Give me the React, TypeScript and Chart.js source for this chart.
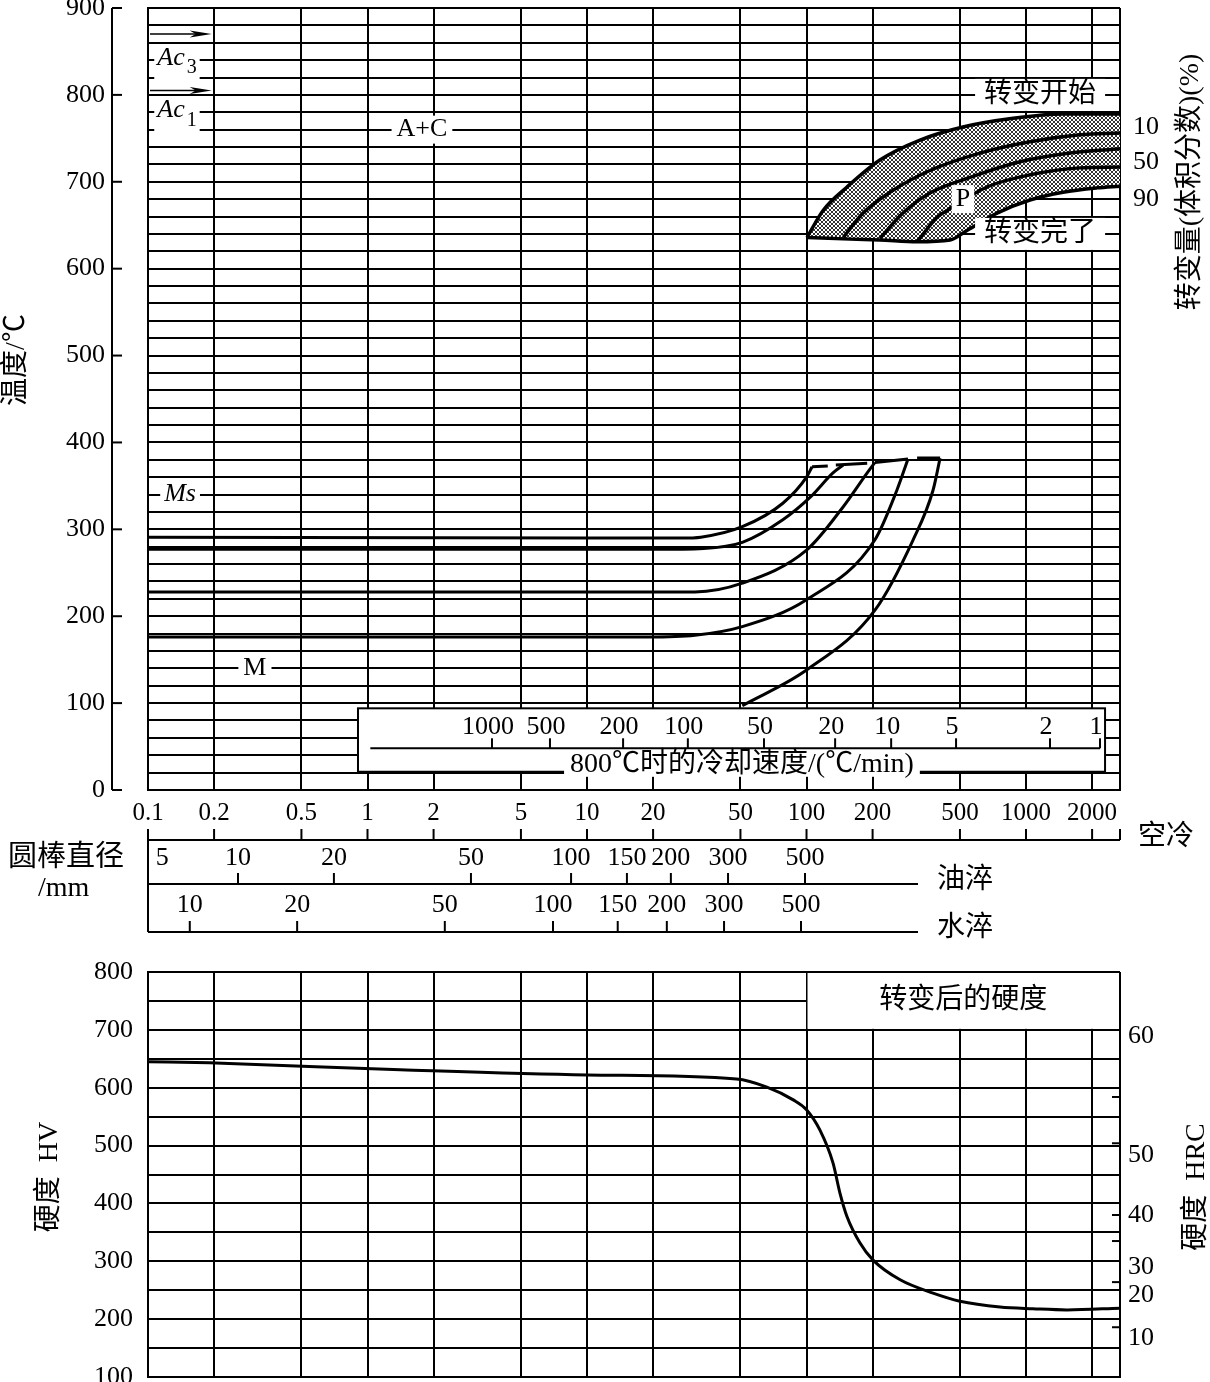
import React, { useEffect, useRef } from "react";
import { Chart, registerables } from "chart.js";
Chart.register(...registerables);

const SERIF = "'Liberation Serif', 'DejaVu Serif', serif";
const MIXED = "'Liberation Serif', 'Noto Sans CJK SC', sans-serif";

// ---------- time axis (s) ----------
const timeGridValues = [0.1, 0.2, 0.5, 1, 2, 5, 10, 20, 50, 100, 200, 500, 1000, 2000];
const timeTickLabels = ["0.1", "0.2", "0.5", "1", "2", "5", "10", "20", "50", "100", "200", "500", "1000", "2000"];
const timeMin = 0.1;
const timeMax = 2680;

// ---------- temperature axis (°C) ----------
const tempMin = 0;
const tempMax = 900;
const tempGridStep = 20;
const tempLabelStep = 100;

// ---------- martensite start curves ----------
const mart1Time = [0.1, 10, 27, 33, 51, 78, 100, 106];
const mart1Temp = [291, 290, 290, 291, 303, 330, 360, 372];
const mart2Time = [0.1, 20, 34, 51, 78, 104, 132, 147];
const mart2Temp = [277, 277, 278, 285, 311, 337, 365, 374];
const mart3Time = [0.1, 20, 31, 51, 100, 147, 189, 205];
const mart3Temp = [228, 228, 228, 238, 276, 326, 365, 377];
const mart4Time = [0.1, 19, 31, 51, 100, 205, 258, 290];
const mart4Temp = [176, 176, 178, 188, 219, 288, 345, 381];
const mart5Time = [51, 100, 205, 306, 377, 406];
const mart5Temp = [97, 138, 207, 288, 345, 382];
const msTopTime = [106, 125, 130, 136, 189, 198, 205, 290, 300, 319, 406];
const msTopTemp = [372, 373, null, 374, 376, null, 377, 381, null, 382, 382];

// ---------- pearlite region ----------
const pStartTime = [100.5, 119, 153, 216, 329, 516, 873, 1475, 2680];
const pStartTemp = [636, 667, 694, 725, 748, 763, 773, 778, 778];
const p10Time = [147, 181, 240, 365, 617, 1042, 1762, 2680];
const p10Temp = [636, 664, 688, 713, 733, 746, 754, 756];
const p50Time = [216, 275, 365, 556, 939, 1586, 2680];
const p50Temp = [635, 664, 687, 705, 723, 733, 738];
const p90Time = [319, 393, 437, 664, 1042, 1762, 2680];
const p90Temp = [631, 659, 667, 694, 708, 716, 717];
const pEndTime = [100.5, 158, 216, 319, 451, 538, 738, 1042, 1475, 2105, 2680];
const pEndTemp = [636, 634, 633, 631, 633, 644, 664, 679, 688, 693, 695];
const fractionLabels = ["10", "50", "90"];
const fractionLabelTemp = [763, 722, 680];

// ---------- cooling rate at 800°C (°C/min) ----------
const coolRates = [1000, 500, 200, 100, 50, 20, 10, 5, 2, 1];
const coolRateAtTime = [3.69, 6.78, 14.6, 28.8, 64, 135, 243, 480, 1286, 2173];

// ---------- bar diameters (mm) ----------
const oilDiameters = [5, 10, 20, 50, 100, 150, 200, 300, 500];
const oilAtTime = [0.116, 0.257, 0.703, 2.96, 8.46, 15.2, 24.1, 43.9, 98.4];
const waterDiameters = [10, 20, 50, 100, 150, 200, 300, 500];
const waterAtTime = [0.155, 0.478, 2.25, 7.0, 13.8, 23.1, 42.1, 94.4];
const quenchScaleEnd = 322;

// ---------- hardness ----------
const hvMin = 100;
const hvMax = 800;
const hvGridStep = 50;
const hvLabelStep = 100;
const hardTime = [0.1, 0.19, 1.41, 10, 48, 66, 87, 100, 115, 132, 142, 153, 175, 201, 267, 377, 500, 761, 1076, 1538, 2680];
const hardHV = [645, 643, 631, 622, 615, 601, 579, 562, 527, 470, 418, 377, 332, 302, 268, 245, 231, 221, 218, 216, 219];
const hrcLabels = ["60", "50", "40", "30", "20", "10"];
const hrcLabelAtHV = [689, 484, 380, 290, 242, 167];
const hrcTickAtHV = [584, 504, 380, 335, 264, 186];

const pts = (ts: number[], vs: (number | null)[]) => ts.map((t, i) => ({ x: t, y: vs[i] }));

function seg(ctx: CanvasRenderingContext2D, x1: number, y1: number, x2: number, y2: number) {
  ctx.beginPath();
  ctx.moveTo(x1, y1);
  ctx.lineTo(x2, y2);
  ctx.stroke();
}

function boxText(ctx: CanvasRenderingContext2D, text: string, x: number, y: number, font: string, padX = 5, h = 30) {
  ctx.font = font;
  const w = ctx.measureText(text).width;
  ctx.fillStyle = "#fff";
  ctx.fillRect(x - w / 2 - padX, y - h / 2, w + 2 * padX, h);
  ctx.fillStyle = "#000";
  ctx.textAlign = "center";
  ctx.textBaseline = "middle";
  ctx.fillText(text, x, y);
}

function plainText(ctx: CanvasRenderingContext2D, text: string, x: number, y: number, font: string, align: CanvasTextAlign = "center") {
  ctx.font = font;
  ctx.fillStyle = "#000";
  ctx.textAlign = align;
  ctx.textBaseline = "middle";
  ctx.fillText(text, x, y);
}

function vText(ctx: CanvasRenderingContext2D, text: string, x: number, y: number, font: string) {
  ctx.save();
  ctx.translate(x, y);
  ctx.rotate(-Math.PI / 2);
  plainText(ctx, text, 0, 0, font);
  ctx.restore();
}

function acLabel(ctx: CanvasRenderingContext2D, sub: string, cx: number, cy: number) {
  const f1 = `italic 26px ${SERIF}`;
  const f2 = `20px ${SERIF}`;
  ctx.font = f1;
  const w1 = ctx.measureText("Ac").width;
  ctx.font = f2;
  const w2 = ctx.measureText(sub).width;
  const total = w1 + w2 + 2;
  const left = cx - total / 2;
  ctx.fillStyle = "#fff";
  ctx.fillRect(left - 3, cy - 15, total + 6, 34);
  ctx.fillStyle = "#000";
  ctx.textAlign = "left";
  ctx.textBaseline = "middle";
  ctx.font = f1;
  ctx.fillText("Ac", left, cy - 2);
  ctx.font = f2;
  ctx.fillText(sub, left + w1 + 2, cy + 8);
}

function arrow(ctx: CanvasRenderingContext2D, x1: number, x2: number, y: number) {
  ctx.lineWidth = 1.5;
  seg(ctx, x1, y, x2 - 10, y);
  ctx.beginPath();
  ctx.moveTo(x2, y);
  ctx.lineTo(x2 - 22, y - 3.5);
  ctx.lineTo(x2 - 16, y);
  ctx.lineTo(x2 - 22, y + 3.5);
  ctx.closePath();
  ctx.fill();
}

const topDecor = {
  id: "topDecor",
  afterDraw(chart: any) {
    const ctx: CanvasRenderingContext2D = chart.ctx;
    const xs = chart.scales.x;
    const ys = chart.scales.y;
    const X = (t: number) => xs.getPixelForValue(t);
    const Y = (v: number) => ys.getPixelForValue(v);
    const a = chart.chartArea;
    ctx.save();
    ctx.strokeStyle = "#000";
    ctx.fillStyle = "#000";
    ctx.lineWidth = 2;

    // separate temperature axis line with ticks
    const axX = a.left - 36;
    seg(ctx, axX, Y(tempMax), axX, Y(tempMin));
    for (let v = tempMin; v <= tempMax; v += tempLabelStep) seg(ctx, axX, Y(v), axX + 10, Y(v));

    // time axis line under labels (air cooling)
    const axY = a.bottom + 50;
    seg(ctx, a.left, axY, a.right, axY);
    for (const t of [...timeGridValues, timeMax]) seg(ctx, X(t), axY - 11, X(t), axY);

    // bar diameter scales
    const oilY = a.bottom + 94;
    const waterY = a.bottom + 142;
    seg(ctx, a.left, axY - 11, a.left, waterY);
    seg(ctx, a.left, oilY, X(quenchScaleEnd), oilY);
    seg(ctx, a.left, waterY, X(quenchScaleEnd), waterY);
    oilDiameters.forEach((d, i) => {
      if (i > 0) seg(ctx, X(oilAtTime[i]), oilY - 11, X(oilAtTime[i]), oilY); // first value sits on the frame
      plainText(ctx, String(d), X(oilAtTime[i]), a.bottom + 68, `26px ${SERIF}`);
    });
    waterDiameters.forEach((d, i) => {
      seg(ctx, X(waterAtTime[i]), waterY - 11, X(waterAtTime[i]), waterY);
      plainText(ctx, String(d), X(waterAtTime[i]), a.bottom + 115, `26px ${SERIF}`);
    });
    plainText(ctx, "空冷", a.right + 18, axY - 2, `28px ${MIXED}`, "left");
    plainText(ctx, "油淬", X(quenchScaleEnd) + 19, oilY - 3, `28px ${MIXED}`, "left");
    plainText(ctx, "水淬", X(quenchScaleEnd) + 19, waterY - 3, `28px ${MIXED}`, "left");
    plainText(ctx, "圆棒直径", 8, a.bottom + 68, `29px ${MIXED}`, "left");
    plainText(ctx, "/mm", 38, a.bottom + 99, `28px ${SERIF}`, "left");

    // cooling-rate box
    ctx.lineWidth = 2;
    const bl = X(0.905), br = X(2291), bt = Y(94), bb = Y(21);
    ctx.fillStyle = "#fff";
    ctx.fillRect(bl, bt, br - bl, bb - bt);
    ctx.strokeRect(bl, bt, br - bl, bb - bt);
    ctx.fillStyle = "#000";
    const lineY = Y(48);
    seg(ctx, X(1.03), lineY, X(coolRateAtTime[coolRateAtTime.length - 1]), lineY);
    coolRates.forEach((r, i) => {
      const px = X(coolRateAtTime[i]);
      seg(ctx, px, lineY, px, lineY - 10);
      plainText(ctx, String(r), px - 4, Y(72), `26px ${SERIF}`);
    });
    boxText(ctx, "800℃时的冷却速度/(℃/min)", X(50.8), Y(29), `28px ${MIXED}`, 6, 24);

    // arrows & labels
    arrow(ctx, X(0.1) + 2, X(0.195), Y(870));
    arrow(ctx, X(0.1) + 2, X(0.195), Y(805));
    ctx.lineWidth = 2;
    acLabel(ctx, "3", X(0.1355), Y(840));
    acLabel(ctx, "1", X(0.1355), Y(780));
    boxText(ctx, "A+C", X(1.77), Y(760), `26px ${SERIF}`, 5, 28);
    boxText(ctx, "Ms", X(0.14), Y(340), `italic 26px ${SERIF}`, 4, 28);
    boxText(ctx, "M", X(0.307), Y(140), `26px ${SERIF}`, 5, 28);
    boxText(ctx, "P", X(516), Y(680), `26px ${SERIF}`, 4, 28);
    boxText(ctx, "转变开始", X(1159), Y(800), `28px ${MIXED}`, 9, 32);
    boxText(ctx, "转变完了", X(1159), Y(640), `28px ${MIXED}`, 9, 32);
    fractionLabels.forEach((l, i) => plainText(ctx, l, a.right + 13, Y(fractionLabelTemp[i]), `26px ${SERIF}`, "left"));

    // axis titles
    vText(ctx, "温度/℃", 17, 360, `28px ${MIXED}`);
    vText(ctx, "转变量(体积分数)(%)", 1191, 182, `28px ${MIXED}`);
    ctx.restore();
  },
};

const bottomDecor = {
  id: "bottomDecor",
  beforeDatasetsDraw(chart: any) {
    const ctx: CanvasRenderingContext2D = chart.ctx;
    const X = (t: number) => chart.scales.x.getPixelForValue(t);
    const Y = (v: number) => chart.scales.y.getPixelForValue(v);
    const a = chart.chartArea;
    ctx.save();
    const l = X(100) + 1, t = a.top + 1, b = Y(700) - 1;
    ctx.fillStyle = "#fff";
    ctx.fillRect(l, t, a.right - 1 - l, b - t);
    plainText(ctx, "转变后的硬度", (X(100) + a.right) / 2, (a.top + Y(700)) / 2, `28px ${MIXED}`);
    ctx.restore();
  },
  afterDraw(chart: any) {
    const ctx: CanvasRenderingContext2D = chart.ctx;
    const Y = (v: number) => chart.scales.y.getPixelForValue(v);
    const a = chart.chartArea;
    ctx.save();
    ctx.strokeStyle = "#000";
    ctx.lineWidth = 2;
    hrcTickAtHV.forEach((hv) => seg(ctx, a.right - 8, Y(hv), a.right, Y(hv)));
    vText(ctx, "硬度  HV", 50, 232, `28px ${MIXED}`);
    vText(ctx, "硬度  HRC", 1197, 242, `28px ${MIXED}`);
    ctx.restore();
  },
};

function makeHatch(): CanvasPattern | string {
  const c = document.createElement("canvas");
  c.width = 4;
  c.height = 4;
  const g = c.getContext("2d");
  if (!g) return "#888";
  g.fillStyle = "#fff";
  g.fillRect(0, 0, 4, 4);
  g.fillStyle = "#333";
  for (let i = 0; i < 4; i++) {
    g.fillRect(i, i, 1, 1);
    g.fillRect(3 - i, i, 1, 1);
  }
  return g.createPattern(c, "repeat") || "#888";
}

const gridStyle = { color: "#000", lineWidth: 2, drawTicks: false };
const borderStyle = { color: "#000", width: 2 };

export default function App() {
  const topRef = useRef<HTMLCanvasElement>(null);
  const botRef = useRef<HTMLCanvasElement>(null);

  useEffect(() => {
    document.body.style.margin = "0";
    const hatch = makeHatch();
    const line = (data: any[], extra: any = {}) => ({
      data,
      borderColor: "#000",
      borderWidth: 3,
      pointRadius: 0,
      fill: false,
      cubicInterpolationMode: "monotone",
      ...extra,
    });
    const timeScale = (height: number, showLabels: boolean) => ({
      type: "logarithmic",
      min: timeMin,
      max: timeMax,
      afterBuildTicks: (s: any) => {
        s.ticks = [...timeGridValues, timeMax].map((v) => ({ value: v }));
      },
      afterFit: (s: any) => {
        s.height = height;
        s.paddingLeft = 0;
        s.paddingRight = 0;
      },
      ticks: {
        display: showLabels,
        autoSkip: false,
        maxRotation: 0,
        minRotation: 0,
        padding: 8,
        color: "#000",
        font: { family: SERIF, size: 25 },
        callback: (_v: any, i: number) => timeTickLabels[i] ?? "",
      },
      grid: gridStyle,
      border: borderStyle,
    });

    const top = new Chart(topRef.current as HTMLCanvasElement, {
      type: "line",
      data: {
        datasets: [
          line(pts(pStartTime, pStartTemp), { fill: 4, backgroundColor: hatch, borderWidth: 3.5 }),
          line(pts(p10Time, p10Temp), { borderWidth: 3.5 }),
          line(pts(p50Time, p50Temp), { borderWidth: 3.5 }),
          line(pts(p90Time, p90Temp), { borderWidth: 3.5 }),
          line(pts(pEndTime, pEndTemp), { borderWidth: 3.5 }),
          line(pts(mart1Time, mart1Temp)),
          line(pts(mart2Time, mart2Temp)),
          line(pts(mart3Time, mart3Temp)),
          line(pts(mart4Time, mart4Temp)),
          line(pts(mart5Time, mart5Temp)),
          line(pts(msTopTime, msTopTemp), { tension: 0, cubicInterpolationMode: "default", spanGaps: false }),
        ],
      } as any,
      options: {
        responsive: false,
        animation: false,
        devicePixelRatio: 1,
        layout: { padding: { left: 0, right: 90, top: 8, bottom: 0 } },
        plugins: { legend: { display: false }, tooltip: { enabled: false }, filler: { drawTime: "beforeDatasetsDraw" } },
        scales: {
          x: timeScale(155, true),
          y: {
            type: "linear",
            min: tempMin,
            max: tempMax,
            afterBuildTicks: (s: any) => {
              const t: any[] = [];
              for (let v = tempMin; v <= tempMax; v += tempGridStep) t.push({ value: v });
              s.ticks = t;
            },
            afterFit: (s: any) => {
              s.width = 148;
              s.paddingTop = 0;
              s.paddingBottom = 0;
            },
            ticks: {
              autoSkip: false,
              padding: 43,
              color: "#000",
              font: { family: SERIF, size: 26 },
              callback: (v: any) => (Number(v) % tempLabelStep === 0 ? String(v) : ""),
            },
            grid: gridStyle,
            border: borderStyle,
          },
        } as any,
      } as any,
      plugins: [topDecor],
    });

    const bottom = new Chart(botRef.current as HTMLCanvasElement, {
      type: "line",
      data: {
        datasets: [line(pts(hardTime, hardHV))],
      } as any,
      options: {
        responsive: false,
        animation: false,
        devicePixelRatio: 1,
        layout: { padding: { left: 0, right: 0, top: 27, bottom: 0 } },
        plugins: { legend: { display: false }, tooltip: { enabled: false } },
        scales: {
          x: timeScale(5, false),
          y: {
            type: "linear",
            min: hvMin,
            max: hvMax,
            afterBuildTicks: (s: any) => {
              const t: any[] = [];
              for (let v = hvMin; v <= hvMax; v += hvGridStep) t.push({ value: v });
              s.ticks = t;
            },
            afterFit: (s: any) => {
              s.width = 148;
              s.paddingTop = 0;
              s.paddingBottom = 0;
            },
            ticks: {
              autoSkip: false,
              padding: 15,
              color: "#000",
              font: { family: SERIF, size: 26 },
              callback: (v: any) => (Number(v) % hvLabelStep === 0 ? String(v) : ""),
            },
            grid: gridStyle,
            border: borderStyle,
          },
          y2: {
            type: "linear",
            position: "right",
            min: hvMin,
            max: hvMax,
            afterBuildTicks: (s: any) => {
              s.ticks = hrcLabelAtHV.map((v) => ({ value: v }));
            },
            afterFit: (s: any) => {
              s.width = 90;
              s.paddingTop = 0;
              s.paddingBottom = 0;
            },
            ticks: {
              autoSkip: false,
              padding: 8,
              color: "#000",
              font: { family: SERIF, size: 26 },
              callback: (_v: any, i: number) => hrcLabels[i] ?? "",
            },
            grid: { display: false, drawTicks: false },
            border: { display: false },
          },
        } as any,
      },
      plugins: [bottomDecor],
    });

    return () => {
      top.destroy();
      bottom.destroy();
    };
  }, []);

  return (
    <div style={{ width: 1210, height: 1382, background: "#fff" }}>
      <canvas ref={topRef} width={1210} height={945} style={{ display: "block", width: 1210, height: 945 }} />
      <canvas ref={botRef} width={1210} height={437} style={{ display: "block", width: 1210, height: 437 }} />
    </div>
  );
}
